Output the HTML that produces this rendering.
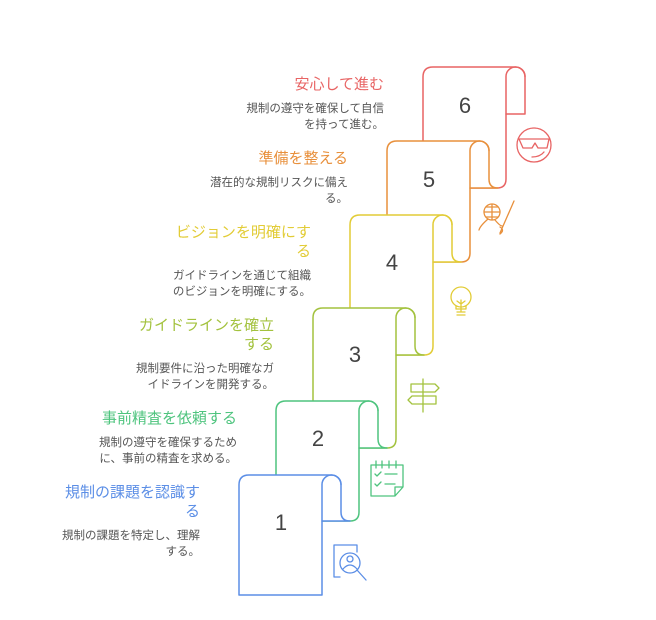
<!DOCTYPE html>
<html><head><meta charset="utf-8"><style>
body{margin:0;background:#fff;width:656px;height:620px;overflow:hidden;position:relative;font-family:"Liberation Sans","Noto Sans CJK JP",sans-serif}
.b{position:absolute;width:160px;text-align:right}
.t{font-size:15px;line-height:19px;font-weight:normal}
.d{font-size:11.5px;line-height:15.5px;color:#555;margin-top:8px}
svg{position:absolute;left:0;top:0}
</style></head><body>
<svg width="656" height="620" viewBox="0 0 656 620" fill="none" stroke-width="1.5" stroke-linecap="round" stroke-linejoin="round">
<g stroke="#e86464" fill="#fff">
<path d="M423,188 L423,77 Q423,67 433,67 L515.5,67 A9.5,9.5 0 0 1 525,76.5 L525,114 L506,114 L506,179 Q506,188 497,188 Z"/>
<path d="M506,114 L506,76.5 A9.5,9.5 0 0 1 525,76.5" fill="none"/>
</g>
<g stroke="#e8903c" fill="#fff">
<path d="M387,262 L387,151 Q387,141 397,141 L479.5,141 A9.5,9.5 0 0 1 489,150.5 L489,179 Q489,188 498,188 L470,188 L470,253 Q470,262 461,262 Z"/>
<path d="M470,188 L470,150.5 A9.5,9.5 0 0 1 489,150.5" fill="none"/>
</g>
<g stroke="#e2cc36" fill="#fff">
<path d="M350,355 L350,225 Q350,215 360,215 L442.5,215 A9.5,9.5 0 0 1 452,224.5 L452,253 Q452,262 461,262 L433,262 L433,346 Q433,355 424,355 Z"/>
<path d="M433,262 L433,224.5 A9.5,9.5 0 0 1 452,224.5" fill="none"/>
</g>
<g stroke="#a3c23e" fill="#fff">
<path d="M313,448 L313,318 Q313,308 323,308 L405.5,308 A9.5,9.5 0 0 1 415,317.5 L415,346 Q415,355 424,355 L396,355 L396,439 Q396,448 387,448 Z"/>
<path d="M396,355 L396,317.5 A9.5,9.5 0 0 1 415,317.5" fill="none"/>
</g>
<g stroke="#4ec47e" fill="#fff">
<path d="M276,521 L276,411 Q276,401 286,401 L368.5,401 A9.5,9.5 0 0 1 378,410.5 L378,439 Q378,448 387,448 L359,448 L359,512 Q359,521 350,521 Z"/>
<path d="M359,448 L359,410.5 A9.5,9.5 0 0 1 378,410.5" fill="none"/>
</g>
<g stroke="#5b8ee6" fill="#fff">
<path d="M239,595 L239,485 Q239,475 249,475 L331.5,475 A9.5,9.5 0 0 1 341,484.5 L341,512 Q341,521 350,521 L322,521 L322,595 Z"/>
<path d="M322,521 L322,484.5 A9.5,9.5 0 0 1 341,484.5" fill="none"/>
</g>
<g font-family="Liberation Sans, sans-serif" font-size="22" fill="#444" stroke="none" text-anchor="middle">
<text x="281" y="530">1</text><text x="318" y="446">2</text><text x="355" y="362">3</text>
<text x="392" y="270">4</text><text x="429" y="187">5</text><text x="465" y="113">6</text>
</g>
<g stroke="#5b8ee6" stroke-width="1.3">
<path d="M340,577 L334,577 L334,545 L357,545 L357,552"/>
<circle cx="350" cy="563" r="10"/><circle cx="350" cy="559" r="3"/>
<path d="M343,569 Q350,561 357,569"/><path d="M357,570 L366,580"/>
</g>
<g stroke="#4ec47e" stroke-width="1.3">
<path d="M371,465 L403,465 L403,487 L395,496 L371,496 Z M395,496 L395,487 L403,487"/>
<path d="M376,461v7M382,461v7M389,461v7M396,461v7"/>
<path d="M375,474l2,2l4,-4M385,474h12M375,484l2,2l4,-4M385,484h10"/>
</g>
<g stroke="#a3c23e" stroke-width="1.3">
<path d="M423,379v33"/><path d="M411,384h24l4,4l-4,4h-24z"/><path d="M436,396h-24l-4,4l4,4h24z"/>
</g>
<g stroke="#e2cc36" stroke-width="1.3">
<circle cx="461" cy="297" r="10"/><path d="M456,306v3h10v-3M457,312h8M457,315h8M461,300v12M457,301l4,3l4,-3"/>
</g>
<g stroke="#e8903c" stroke-width="1.3">
<circle cx="492" cy="212" r="8"/><path d="M484,212h16M492,204v16M486,207h12M486,217h12"/>
<path d="M488,219 Q480,226 479,230M495,220 Q500,226 502,226M514,201 L500,233M500,227 Q505,230 500,234"/>
</g>
<g stroke="#e86464" stroke-width="1.3">
<circle cx="534" cy="145" r="17"/><path d="M519,139h30l-2,9h-9l-3,-5l-3,5h-9z"/><path d="M532,157 Q540,157 544,152"/>
</g>
</svg>
<div class="b" style="left:40px;top:483px"><div class="t" style="color:#5b8ee6">規制の課題を認識す<br>る</div><div class="d">規制の課題を特定し、理解<br>する。</div></div>
<div class="b" style="left:77px;top:409px"><div class="t" style="color:#4ec47e">事前精査を依頼する</div><div class="d">規制の遵守を確保するため<br>に、事前の精査を求める。</div></div>
<div class="b" style="left:114px;top:316px"><div class="t" style="color:#a3c23e">ガイドラインを確立<br>する</div><div class="d">規制要件に沿った明確なガ<br>イドラインを開発する。</div></div>
<div class="b" style="left:151px;top:223px"><div class="t" style="color:#e2cc36">ビジョンを明確にす<br>る</div><div class="d">ガイドラインを通じて組織<br>のビジョンを明確にする。</div></div>
<div class="b" style="left:188px;top:149px"><div class="t" style="color:#e8903c">準備を整える</div><div class="d">潜在的な規制リスクに備え<br>る。</div></div>
<div class="b" style="left:224px;top:75px"><div class="t" style="color:#e86464">安心して進む</div><div class="d">規制の遵守を確保して自信<br>を持って進む。</div></div>
</body></html>
